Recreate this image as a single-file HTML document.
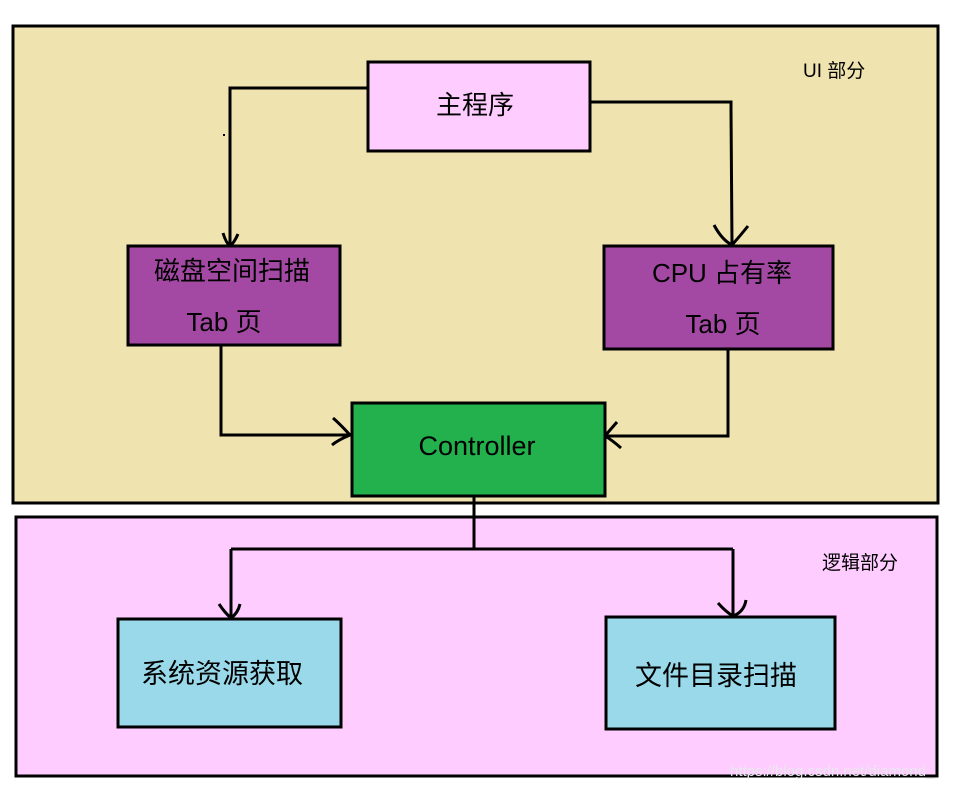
<!DOCTYPE html>
<html><head><meta charset="utf-8"><style>
html,body{margin:0;padding:0;background:#fff;}
svg{display:block;}
text{font-family:"Liberation Sans","Noto Sans CJK SC",sans-serif;fill:#000;}
</style></head><body>
<svg width="963" height="791" viewBox="0 0 963 791" xmlns="http://www.w3.org/2000/svg">
<rect x="0" y="0" width="963" height="791" fill="#fff"/>
<rect x="13" y="26" width="925" height="477" fill="#efe4b0" stroke="#000" stroke-width="3"/>
<rect x="16" y="517" width="921" height="259" fill="#ffccff" stroke="#000" stroke-width="3"/>
<text x="803" y="77" font-size="19">UI 部分</text>
<text x="822" y="569" font-size="19">逻辑部分</text>
<g stroke="#000" stroke-width="3" fill="none">
<polyline points="367,88 230,88 230,245"/>
<polyline points="590,102 731,102 731,110 732,245"/>
<polyline points="221,345 221,435 351,435"/>
<polyline points="728,349 728,436 605,436"/>
<polyline points="474,496 474,549"/>
<polyline points="231,549 733,549"/>
<polyline points="231,549 231,618"/>
<polyline points="733,549 733,616"/>
<path d="M223,233 Q226,243 230,246 Q234,243 238,234"/>
<path d="M714,225 Q722,240 732,245 Q740,236 748,226"/>
<path d="M333,418 Q340,424 350,435 Q338,440 332,445"/>
<path d="M617,422 Q610,430 605,436 Q612,440 621,448"/>
<path d="M219,604 Q225,613 231,618 Q238,613 240,604"/>
<path d="M718,603 Q726,612 733,616 Q744,612 746,600"/>
</g>
<rect x="223" y="134" width="2" height="2" fill="#000"/>
<g stroke="#000" stroke-width="3">
<rect x="368" y="62" width="222" height="89" fill="#ffccff"/>
<rect x="128" y="246" width="212" height="99" fill="#a349a4"/>
<rect x="604" y="246" width="229" height="103" fill="#a349a4"/>
<rect x="352" y="403" width="253" height="93" fill="#22b14c"/>
<rect x="118" y="619" width="223" height="108" fill="#99d9ea"/>
<rect x="606" y="617" width="229" height="112" fill="#99d9ea"/>
</g>
<text x="475" y="114" font-size="26" text-anchor="middle">主程序</text>
<text x="232" y="280" font-size="26" text-anchor="middle">磁盘空间扫描</text>
<text x="224" y="331" font-size="26" text-anchor="middle">Tab 页</text>
<text x="722" y="282" font-size="26" text-anchor="middle">CPU 占有率</text>
<text x="723" y="333" font-size="26" text-anchor="middle">Tab 页</text>
<text x="477" y="455" font-size="27" text-anchor="middle">Controller</text>
<text x="222" y="683" font-size="27" text-anchor="middle">系统资源获取</text>
<text x="716" y="685" font-size="27" text-anchor="middle">文件目录扫描</text>
<text x="730" y="776" font-size="15" fill="#e6e6e6" style="fill:#e8e8ee">https://blog.csdn.net/diamond_</text>
</svg>
</body></html>
